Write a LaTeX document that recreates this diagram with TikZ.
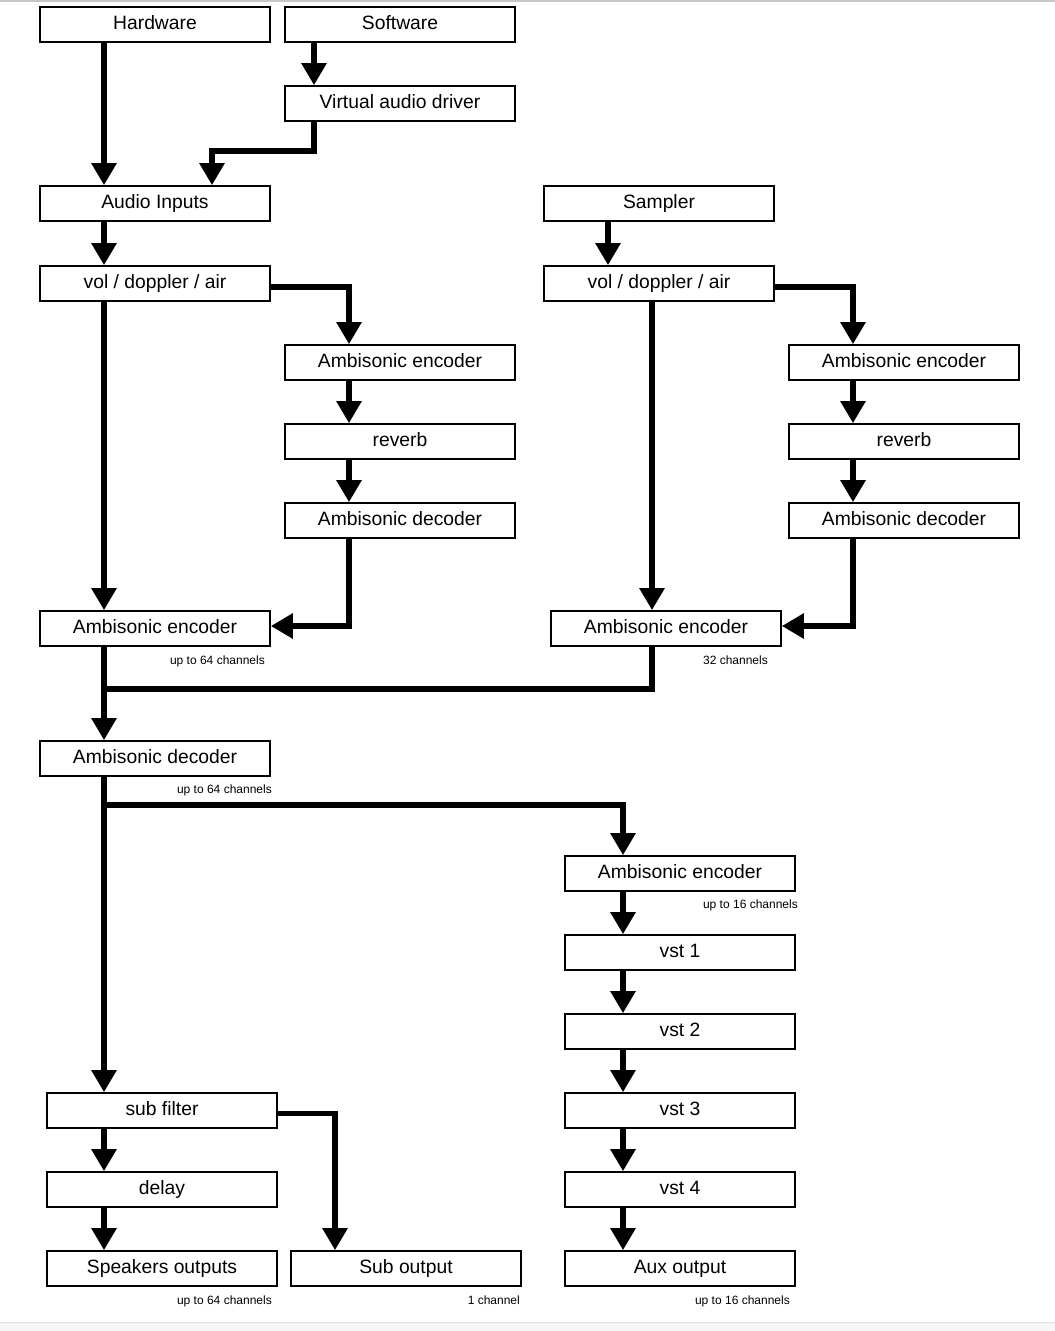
\documentclass[tikz,border=0pt]{standalone}
\usepackage{fontspec}
\setmainfont{Liberation Sans}
\usetikzlibrary{arrows.meta,calc}
\begin{document}
\begin{tikzpicture}[x=1pt,y=-1pt,
 box/.style={draw,line width=1.6pt,minimum width=230pt,minimum height=35pt,inner sep=0pt,text height=14pt,text depth=4pt,fill=white,font=\fontsize{19.3}{21}\selectfont},
 arr/.style={line width=5.5pt,line join=miter,-{Triangle[width=24pt,length=22pt]}},
 wire/.style={line width=5.5pt,line join=miter},
 note/.style={font=\fontsize{12}{13}\selectfont,anchor=base east,inner sep=0pt}]
\useasboundingbox (0,0) rectangle (1055,1331);
\fill[gray!45] (0,0) rectangle (1055,1.5);
\fill[gray!7] (0,1322) rectangle (1055,1331);
\draw[gray!25,line width=1pt] (0,1322) -- (1055,1322);
% x guides
\coordinate (xa) at (104,0);
\coordinate (xb) at (212,0);
\coordinate (xc) at (314,0);
\coordinate (xd) at (349,0);
\coordinate (xe) at (608,0);
\coordinate (xf) at (652,0);
\coordinate (xg) at (853,0);
\coordinate (xh) at (623,0);
\coordinate (xi) at (335,0);
\coordinate (yb) at (0,151);
\coordinate (yj) at (0,689);
\coordinate (yc) at (0,805);
% boxes
\node[box] (hw) at (155,24.5) {Hardware};
\node[box] (sw) at (400,24.5) {Software};
\node[box] (vad) at (400,103.5) {Virtual audio driver};
\node[box] (ai) at (155,203.5) {Audio Inputs};
\node[box] (sam) at (659,203.5) {Sampler};
\node[box] (volL) at (155,283.5) {vol / doppler / air};
\node[box] (volR) at (659,283.5) {vol / doppler / air};
\node[box] (encL2) at (400,362.5) {Ambisonic encoder};
\node[box] (revL) at (400,441.5) {reverb};
\node[box] (decL2) at (400,520.5) {Ambisonic decoder};
\node[box] (encR2) at (904,362.5) {Ambisonic encoder};
\node[box] (revR) at (904,441.5) {reverb};
\node[box] (decR2) at (904,520.5) {Ambisonic decoder};
\node[box] (encL) at (155,628.5) {Ambisonic encoder};
\node[box] (encR) at (666,628.5) {Ambisonic encoder};
\node[box] (dec) at (155,758.5) {Ambisonic decoder};
\node[box] (encA) at (680,873.5) {Ambisonic encoder};
\node[box] (v1) at (680,952.5) {vst 1};
\node[box] (v2) at (680,1031.5) {vst 2};
\node[box] (v3) at (680,1110.5) {vst 3};
\node[box] (v4) at (680,1189.5) {vst 4};
\node[box] (aux) at (680,1268.5) {Aux output};
\node[box] (sub) at (162,1110.5) {sub filter};
\node[box] (del) at (162,1189.5) {delay};
\node[box] (spk) at (162,1268.5) {Speakers outputs};
\node[box] (subo) at (406,1268.5) {Sub output};
% notes
\node[note] (n1) at (265,664) {up to 64 channels};
\node[note] (n2) at (768,664) {32 channels};
\node[note] (n3) at (272,793) {up to 64 channels};
\node[note] (n4) at (798,908) {up to 16 channels};
\node[note] (n5) at (272,1304) {up to 64 channels};
\node[note] (n6) at (520,1304) {1 channel};
\node[note] (n7) at (790,1304) {up to 16 channels};
% connectors
\draw[arr] (hw.south -| xa) -- (ai.north -| xa);
\draw[arr] (sw.south -| xc) -- (vad.north -| xc);
\draw[arr] (vad.south -| xc) -- (xc |- yb) -- (xb |- yb) -- (ai.north -| xb);
\draw[arr] (ai.south -| xa) -- (volL.north -| xa);
\draw[arr] ([yshift=-3.5pt]volL.east) -| (encL2.north -| xd);
\draw[arr] (encL2.south -| xd) -- (revL.north -| xd);
\draw[arr] (revL.south -| xd) -- (decL2.north -| xd);
\draw[arr] (decL2.south -| xd) |- ([yshift=2.5pt]encL.east);
\draw[arr] (volL.south -| xa) -- (encL.north -| xa);
\draw[arr] (sam.south -| xe) -- (volR.north -| xe);
\draw[arr] ([yshift=-3.5pt]volR.east) -| (encR2.north -| xg);
\draw[arr] (encR2.south -| xg) -- (revR.north -| xg);
\draw[arr] (revR.south -| xg) -- (decR2.north -| xg);
\draw[arr] (decR2.south -| xg) |- ([yshift=2.5pt]encR.east);
\draw[arr] (volR.south -| xf) -- (encR.north -| xf);
\draw[arr] (encL.south -| xa) -- (dec.north -| xa);
\draw[wire] (encR.south -| xf) -- (xf |- yj) -- (xa |- yj);
\draw[arr] (dec.south -| xa) -- (sub.north -| xa);
\draw[arr] (xa |- yc) -- (xh |- yc) -- (encA.north -| xh);
\draw[arr] (encA.south -| xh) -- (v1.north -| xh);
\draw[arr] (v1.south -| xh) -- (v2.north -| xh);
\draw[arr] (v2.south -| xh) -- (v3.north -| xh);
\draw[arr] (v3.south -| xh) -- (v4.north -| xh);
\draw[arr] (v4.south -| xh) -- (aux.north -| xh);
\draw[arr] (sub.south -| xa) -- (del.north -| xa);
\draw[arr] (del.south -| xa) -- (spk.north -| xa);
\draw[arr] ([yshift=-3pt]sub.east) -| (subo.north -| xi);
\end{tikzpicture}
\end{document}
